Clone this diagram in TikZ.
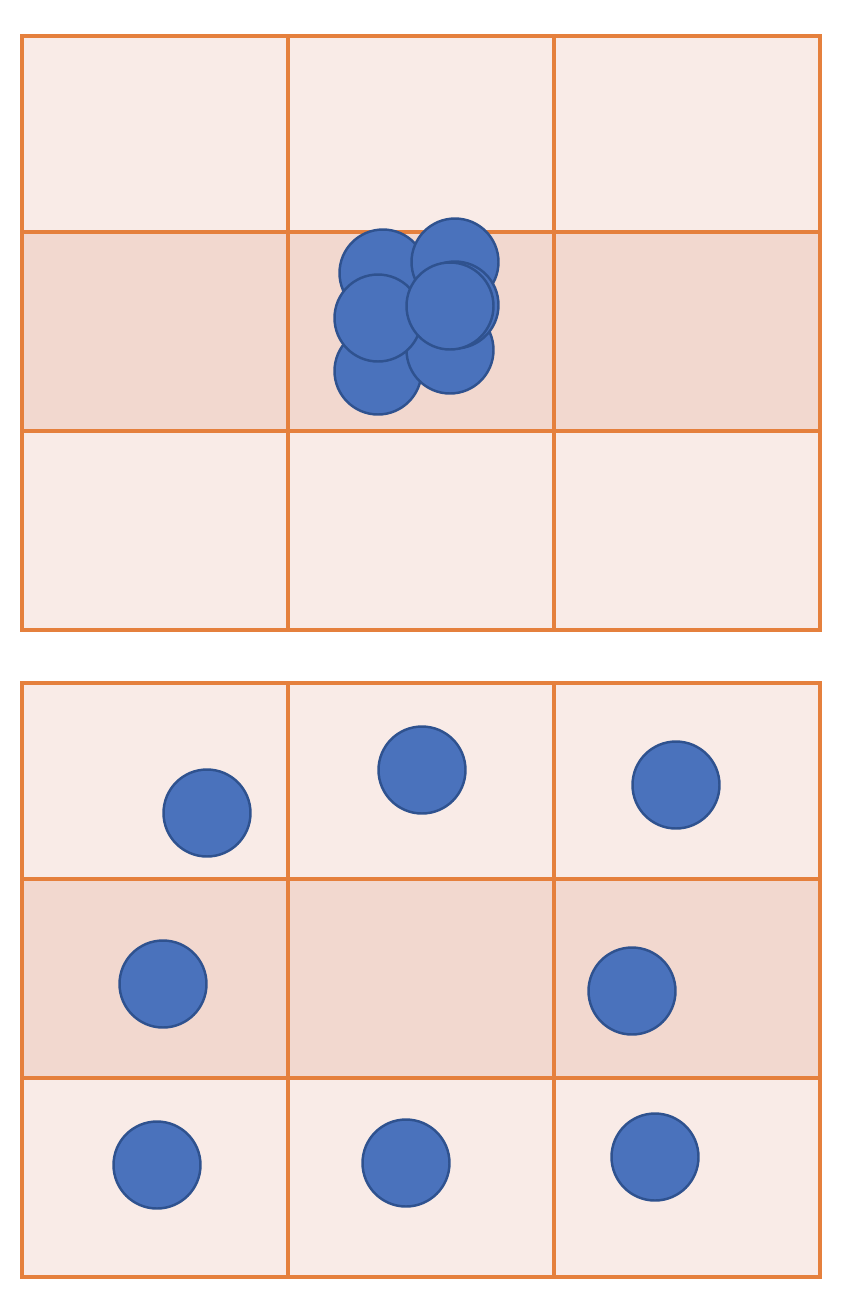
\documentclass[tikz,border=0pt]{standalone}
\usepackage{tikz}
\usetikzlibrary{positioning}
\definecolor{gridline}{HTML}{E5803D}
\definecolor{lightcell}{HTML}{F9EBE7}
\definecolor{darkcell}{HTML}{F2D8CF}
\definecolor{ballfill}{HTML}{4A72BC}
\definecolor{ballline}{HTML}{2F528F}
\begin{document}
\begin{tikzpicture}[x=0.02cm, y=-0.02cm,
  grid/.style={draw=gridline, line width=1.9pt},
  ball/.style={circle, draw=ballline, fill=ballfill, line width=1.4pt, minimum size=1.74cm, inner sep=0pt}]
\useasboundingbox (0,0) rectangle (856,1296);
% top panel
\fill[lightcell] (22,36) rectangle (820,630);
\fill[darkcell] (22,232) rectangle (820,431);
\draw[grid] (22,36) rectangle (820,630);
\draw[grid] (288,36) -- (288,630);
\draw[grid] (554,36) -- (554,630);
\draw[grid] (22,232) -- (820,232);
\draw[grid] (22,431) -- (820,431);
% bottom panel
\fill[lightcell] (22,683) rectangle (820,1277);
\fill[darkcell] (22,879) rectangle (820,1078);
\draw[grid] (22,683) rectangle (820,1277);
\draw[grid] (288,683) -- (288,1277);
\draw[grid] (554,683) -- (554,1277);
\draw[grid] (22,879) -- (820,879);
\draw[grid] (22,1078) -- (820,1078);
% clustered
\node[ball] (c1) at (378,371) {};
\node[ball] (c2) at (450,350) {};
\node[ball] (c3) at (383,273) {};
\node[ball] (c4) at (455,262) {};
\node[ball] (c5) at (455,305) {};
\node[ball] (c6) at (378,318) {};
\node[ball] (c7) at (450,306) {};
% spread
\node[ball] (s1) at (207,813) {};
\node[ball] (s2) at (422,770) {};
\node[ball] (s3) at (676,785) {};
\node[ball] (s4) at (163,984) {};
\node[ball] (s5) at (632,991) {};
\node[ball] (s6) at (157,1165) {};
\node[ball] (s7) at (406,1163) {};
\node[ball] (s8) at (655,1157) {};
\end{tikzpicture}
\end{document}
